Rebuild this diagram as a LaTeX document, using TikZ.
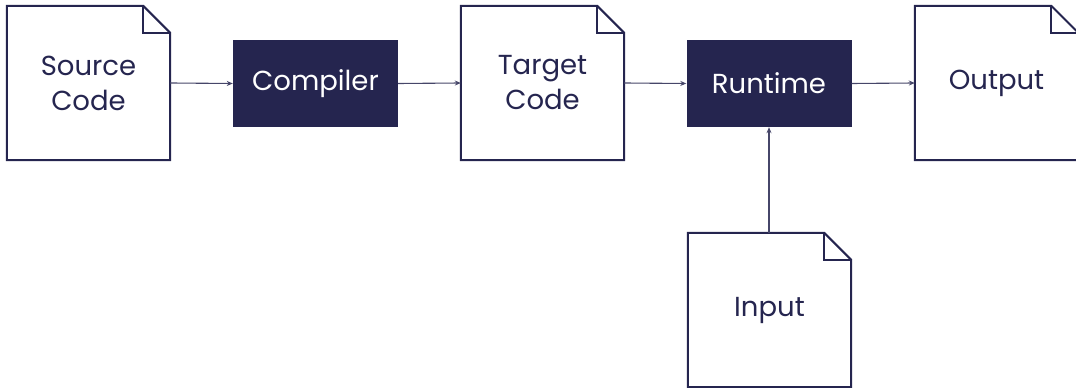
\documentclass[tikz,border=0pt]{standalone}
\usepackage{fontspec}
\setmainfont{Poppins}
\usetikzlibrary{arrows.meta,calc}
\definecolor{navy}{HTML}{25254F}
\tikzset{
  x=1pt, y=1pt,
  docbox/.style={minimum width=163pt, minimum height=154pt, inner sep=0pt,
    align=center, text=navy, font=\fontsize{27.5}{35}\selectfont},
  procbox/.style={fill=navy, minimum width=165pt, minimum height=87pt, inner sep=0pt,
    text=white, font=\fontsize{27.5}{35}\selectfont},
  flow/.style={draw=navy!85, line width=1.1pt, -{Stealth[length=6pt,width=5pt]}},
  outline/.style={draw=navy, line width=2pt, line join=miter},
}
% draw a dog-eared page around a node
\newcommand{\pageoutline}[1]{%
  \draw[outline] (#1.north west) -- ($(#1.north east)+(-27,0)$)
    -- ($(#1.north east)+(0,-27)$) -- (#1.south east) -- (#1.south west) -- cycle;
  \draw[outline] ($(#1.north east)+(-27,0)$) |- ($(#1.north east)+(0,-27)$);
}
\begin{document}
\begin{tikzpicture}
\useasboundingbox (0,0) rectangle (1076,388);
\node[docbox] (src) at (88.5,305) {Source\\Code};
\node[procbox] (comp) at (315.5,304.5) {Compiler};
\node[docbox] (tgt) at (542.5,305) {Target\\Code};
\node[procbox] (run) at (769,304.5) {Runtime};
\node[docbox] (out) at (996.5,305) {Output};
\node[docbox] (in) at (769.5,78) {Input};
\pageoutline{src}
\pageoutline{tgt}
\pageoutline{out}
\pageoutline{in}
\draw[flow] (src.east) -- (comp.west);
\draw[flow] (comp.east) -- (tgt.west);
\draw[flow] (tgt.east) -- (run.west);
\draw[flow] (run.east) -- (out.west);
\draw[flow] (in.north -| run.south) -- (run.south);
\end{tikzpicture}
\end{document}
